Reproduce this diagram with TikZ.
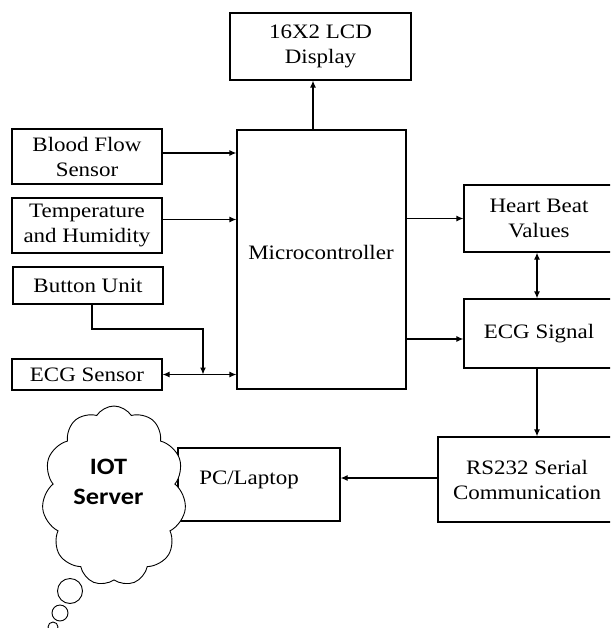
\documentclass[tikz,border=0pt]{standalone}
\usepackage{fontspec}
\setmainfont[FakeStretch=1.12]{Liberation Serif}
\newfontfamily\cloudfont[FakeStretch=1.12]{Carlito}
\usetikzlibrary{arrows.meta,shapes.symbols,calc}
\begin{document}
\begin{tikzpicture}[x=1pt,y=-1pt,
  box/.style={draw, line width=1.2pt, inner sep=0pt, align=center,
    font=\fontsize{20.5}{25}\selectfont},
  lbl/.style={inner sep=0pt, align=center, font=\fontsize{20.5}{25}\selectfont},
  arr/.style={line width=1.2pt, -{Latex[length=7pt,width=6pt]}},
  dbl/.style={line width=1.2pt, {Latex[length=7pt,width=6pt]}-{Latex[length=7pt,width=6pt]}},
  bubble/.style={draw, line width=0.9pt, fill=white}]
\useasboundingbox (0,0) rectangle (610,628);
\clip (0,0) rectangle (610,628);
% boxes
\node[box, minimum width=181, minimum height=67] (lcd) at (320.5,46.5) {16X2 LCD\\Display};
\node[box, minimum width=169, minimum height=259] (mc) at (321.5,259.5) {};
\node[lbl] (mct) at (321,252) {Microcontroller};
\node[box, minimum width=150, minimum height=55] (bf) at (87,156.5) {Blood Flow\\Sensor};
\node[box, minimum width=150, minimum height=55] (th) at (87,225.5) {Temperature\\and Humidity};
\node[box, minimum width=150, minimum height=37] (bu) at (88,285.5) {Button Unit};
\node[box, minimum width=150, minimum height=31] (es) at (87,374.5) {ECG Sensor};
\node[box, minimum width=150, minimum height=67] (hb) at (539,218.5) {Heart Beat\\Values};
\node[box, minimum width=150, minimum height=69] (sig) at (539,333.5) {ECG Signal};
\node[box, minimum width=178, minimum height=85] (rs) at (527,479.5) {RS232 Serial\\Communication};
\node[box, minimum width=162, minimum height=73] (pc) at (259,484.5) {};
\node[lbl] (pct) at (249,480) {PC/Laptop};
% connectors
\draw[arr] (bf.east |- 0,153) -- (mc.west |- 0,153);
\draw[arr] ($(th.east)+(0,-6)$) -- ($(th.east -| mc.west)+(0,-6)$);
\draw[dbl] (es.east) -- (es.east -| mc.west);
\coordinate (j) at (203,329);
\draw[arr] ([xshift=4pt]bu.south) |- (j) -- (j |- es.east);
\draw[arr] ([xshift=-8.5pt]mc.north) -- ([xshift=-8.5pt]mc.north |- lcd.south);
\draw[arr] (mc.east |- hb.west) -- (hb.west);
\draw[arr] ($(mc.east |- sig.west)+(0,5.5)$) -- ($(sig.west)+(0,5.5)$);
\draw[dbl] ([xshift=-2pt]hb.south) -- ([xshift=-2pt]sig.north);
\draw[arr] ([xshift=-2pt]sig.south) -- ([xshift=-2pt]sig.south |- rs.north);
\draw[arr] (rs.west |- 0,478) -- (pc.east |- 0,478);
% cloud
\node[cloud, draw, line width=0.9pt, fill=white, cloud puffs=11, cloud puff arc=115,
  aspect=0.78, minimum width=144, minimum height=180, inner sep=0pt] (cl) at (114,496) {};
\node[inner sep=0pt, align=center, font=\cloudfont\bfseries\fontsize{23.5}{30}\selectfont] (iot) at (108.5,482) {IOT\\Server};
\node[bubble, circle, minimum size=25, inner sep=0pt] (b1) at (70,591) {};
\node[bubble, circle, minimum size=16, inner sep=0pt] (b2) at (60,613) {};
\node[bubble, circle, minimum size=10, inner sep=0pt] (b3) at (53,627) {};
\end{tikzpicture}
\end{document}
